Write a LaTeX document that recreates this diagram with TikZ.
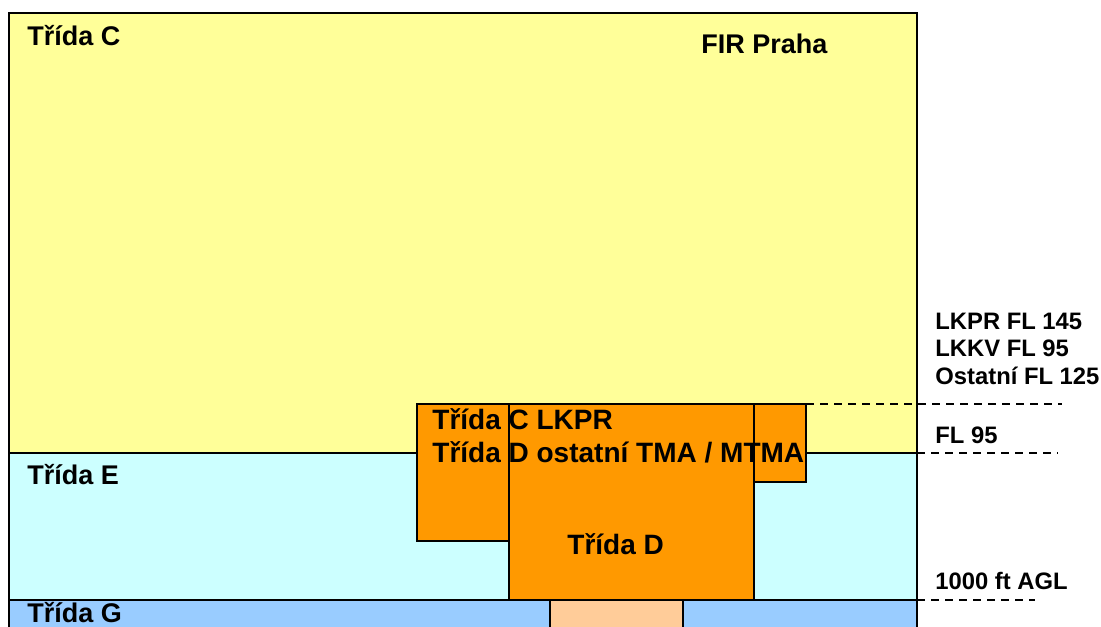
\documentclass[tikz,border=0pt]{standalone}
\usepackage{fontspec}
\setmainfont{Liberation Sans}
\usetikzlibrary{positioning}
\definecolor{firyellow}{HTML}{FFFF99}
\definecolor{ecyan}{HTML}{CCFFFF}
\definecolor{gblue}{HTML}{99CCFF}
\definecolor{tmaorange}{HTML}{FF9900}
\definecolor{ctrpeach}{HTML}{FFCC99}

\begin{document}
\begin{tikzpicture}[x=0.5pt, y=-0.5pt,
	zone/.style={draw=black, line width=1pt},
	level/.style={draw=black, line width=0.75pt, dash pattern=on 4pt off 3pt}]
	\useasboundingbox (0,0) rectangle (1101,626);
	\clip (0,0) rectangle (1101,626);

	% airspace classes
	\path[zone, fill=firyellow] (9,13) rectangle (917,453);
	\path[zone, fill=ecyan] (9,453) rectangle (917,600);
	\path[zone, fill=gblue] (9,600) rectangle (917,660);
	\path[zone, fill=ctrpeach] (550,600) rectangle (683,660);

	% TMA boxes
	\path[zone, fill=tmaorange] (417,404) rectangle (509,541);
	\path[zone, fill=tmaorange] (509,404) rectangle (754,600);
	\path[zone, fill=tmaorange] (754,404) rectangle (806,482);

	\begin{scope}[every node/.style={anchor=base west, inner sep=0pt, font=\fontsize{13.5}{16}\selectfont\bfseries}]
		\node (trC) at (27,46) {Třída C};
		\node (fir) at (701,54) {FIR Praha};
		\node (trE) at (27,484) {Třída E};
		\node (trG) at (27,622) {Třída G};
	\end{scope}

	\begin{scope}[every node/.style={anchor=base west, inner sep=0pt, font=\fontsize{14}{17}\selectfont\bfseries}]
		\node (tmaC) at (432,429) {Třída C LKPR};
		\node (tmaD) at (432,462) {Třída D ostatní TMA / MTMA};
		\node (trD) at (567,554) {Třída D};
	\end{scope}

	\begin{scope}[every node/.style={anchor=base west, inner sep=0pt, font=\fontsize{11.9}{14}\selectfont\bfseries}]
		\node (lkpr) at (935,329) {LKPR FL 145};
		\node (lkkv) at (935,356) {LKKV FL 95};
		\node (ostatni) at (935,384) {Ostatní FL 125};
		\node (fl95) at (935,443) {FL 95};
		\node (agl) at (935,589) {1000 ft AGL};
	\end{scope}

	% level lines
	\coordinate (top1) at (806,404);
	\coordinate (top2) at (1062,404);
	\coordinate (mid1) at (917,453);
	\coordinate (mid2) at (1058,453);
	\coordinate (low1) at (917,600);
	\coordinate (low2) at (1035,600);
	\draw[level] (top1) -- (top2);
	\draw[level] (mid1) -- (mid2);
	\draw[level] (low1) -- (low2);
\end{tikzpicture}
\end{document}
